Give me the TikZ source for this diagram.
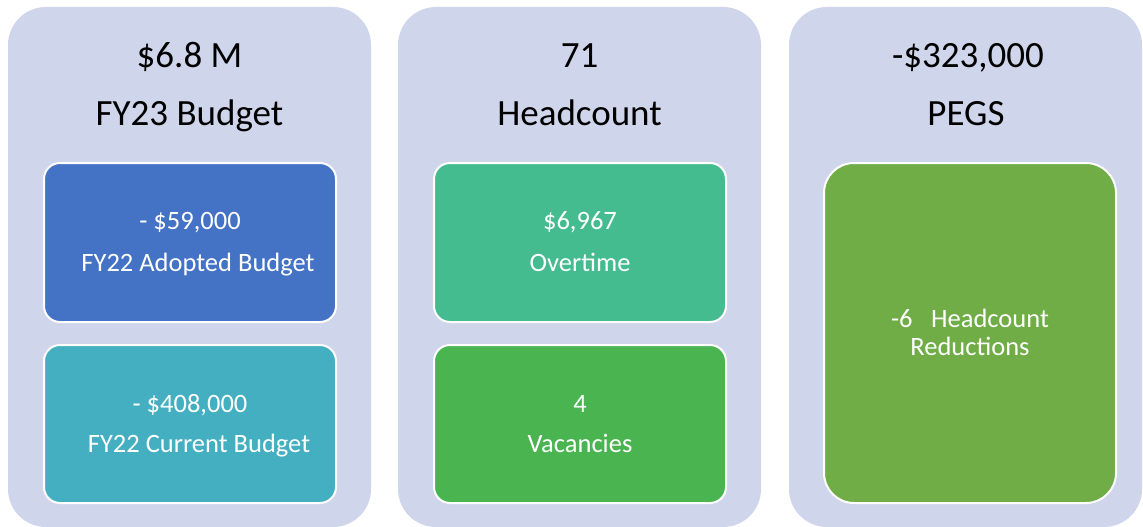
\documentclass[tikz,border=0pt]{standalone}
\usepackage{fontspec}
\setmainfont{Carlito}
\definecolor{panelc}{HTML}{CFD5EA}
\definecolor{bluec}{HTML}{4472C4}
\definecolor{tealc}{HTML}{43AFC1}
\definecolor{mintc}{HTML}{45BC8F}
\definecolor{greenc}{HTML}{4AB451}
\definecolor{olivec}{HTML}{70AD47}
\begin{document}
\begin{tikzpicture}[x=1pt,y=-1pt,
  panel/.style={fill=panelc,draw=none,rounded corners=38pt},
  card/.style={draw=white,line width=2pt,rounded corners=16pt},
  bigcard/.style={draw=white,line width=2pt,rounded corners=30pt},
  ttl/.style={font=\fontsize{37}{42}\selectfont,text=black,inner sep=0pt,anchor=base},
  lbl/.style={font=\fontsize{26.5}{30}\selectfont,text=white,inner sep=0pt,anchor=base}]
\useasboundingbox (0,0) rectangle (1143,527);
\fill[white] (0,0) rectangle (1143,527);
% panels
\path[panel] (8,7) rectangle (371,527);
\path[panel] (398,7) rectangle (761,527);
\path[panel] (789,7) rectangle (1142,527);
% cards
\path[card,fill=bluec] (44,163) rectangle (336,322);
\path[card,fill=tealc] (44,345) rectangle (336,503);
\path[card,fill=mintc] (434,163) rectangle (726,322);
\path[card,fill=greenc] (434,345) rectangle (726,503);
\path[bigcard,fill=olivec] (824,163) rectangle (1116,503);
% titles
\node[ttl] (t1a) at (189.5,67) {\$6.8 M};
\node[ttl] (t1b) at (189.5,125) {FY23 Budget};
\node[ttl] (t2a) at (579.5,67) {71};
\node[ttl] (t2b) at (579.5,125) {Headcount};
\node[ttl] (t3a) at (968,67) {-\$323,000};
\node[ttl] (t3b) at (966,125) {PEGS};
% card labels
\node[lbl] (a1) at (190,229) {- \$59,000};
\node[lbl] (a2) at (198,271) {FY22 Adopted Budget};
\node[lbl] (b1) at (190,412) {- \$408,000};
\node[lbl] (b2) at (199,452) {FY22 Current Budget};
\node[lbl] (c1) at (580,229) {\$6,967};
\node[lbl] (c2) at (580,271) {Overtime};
\node[lbl] (d1) at (580,412) {4};
\node[lbl] (d2) at (580,452) {Vacancies};
\node[lbl] (e1) at (970,327) {-6\hspace{0.7em}Headcount};
\node[lbl] (e2) at (970,355) {Reductions};
\end{tikzpicture}
\end{document}
